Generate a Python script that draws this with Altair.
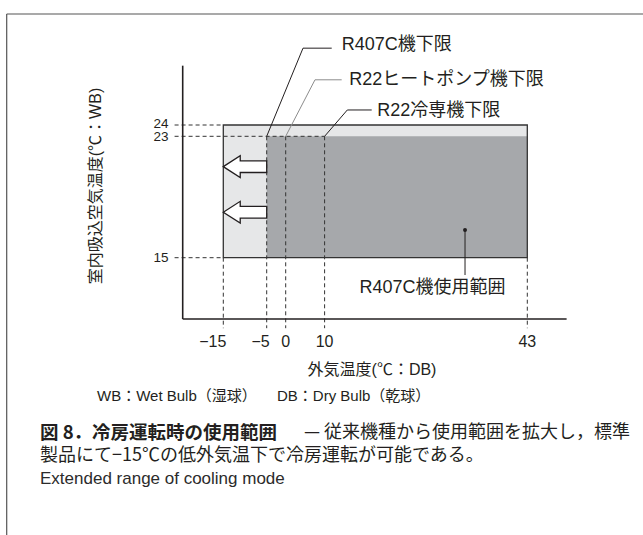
import altair as alt
import pandas as pd

# ---------------- data ----------------
# schematic (non-linear) axes: anchor values and where they fall
x_anchor_vals = [-25, -15, -5, 0, 10, 43]
x_anchor_px = [182.7, 223.3, 266.7, 285.7, 324.6, 527.3]
y_anchor_vals = [11, 15, 23, 24]
y_anchor_px = [319, 257.7, 136.3, 125]

x_ticks = [-15, -5, 0, 10, 43]
x_tick_labels = ["−15", "−5", "0", "10", "43"]
y_ticks = [24, 23, 15]
y_tick_labels = ["24", "23", "15"]
y_tick_dy = [-1, 1, 0]

# operating ranges (outdoor DB from..to, indoor WB from..to)
region_names = ["拡大範囲", "R407C機使用範囲"]
region_x0 = [-15, -5]
region_x1 = [43, 43]
region_y0 = [15, 15]
region_y1 = [24, 23]
region_colors = ["#e6e7e8", "#a6a8ab"]

# dashed guides
dash_h_y = [24, 23, 15]
dash_h_x0 = [-27, -27, -27]
dash_h_x1 = [-15, 10, -15]
dash_v_x = [-15, -5, 0, 10, 43]
dash_v_y0 = [15, 23, 23, 23, 15]
dash_v_y1 = [10.4, 10.4, 10.4, 10.4, 10.4]

# axes extents
axis_x_min, axis_x_max = -25, 49.4
axis_y_min, axis_y_max = 11, 29.25

# arrows (extension to the left)
arrow_x = [-10, -10]
arrow_y = [21, 18]

# lower-limit leaders
leader_names = ["R407C機下限", "R22ヒートポンプ機下限", "R22冷専機下限"]
leader_corner_x = [-5, 0, 10]
leader_corner_y = [23, 23, 23]
leader_elbow_x = [4.45, 7.53, 13.7]
leader_elbow_y = [30.8, 28.0, 25.33]
leader_end_x = [11.16, 12.78, 17.67]
leader_label_x = [12.78, 14.02, 18.58]
leader_label_y = [31.05, 28.0, 25.2]
leader_colors = ["#231f20", "#8c8c8c", "#231f20"]

usage_label = "R407C機使用範囲"
usage_label_x, usage_label_y = 27.57, 13.0
usage_dot_x, usage_dot_y = 32.86, 16.83
usage_line_y1 = 13.87

# ---------------- scales ----------------
xs = alt.Scale(domain=x_anchor_vals, range=x_anchor_px, nice=False, zero=False)
ys = alt.Scale(domain=y_anchor_vals, range=y_anchor_px, nice=False, zero=False)


def X(f):
    return alt.X(f, type="quantitative", scale=xs, axis=None)


def X2(f):
    return alt.X2(f)


def Y(f):
    return alt.Y(f, type="quantitative", scale=ys, axis=None)


INK = "#231f20"
LATIN = "Liberation Sans, Arial, 'Noto Sans CJK JP'"
CJK = "'Noto Sans CJK JP', 'Noto Sans CJK SC'"

regions = pd.DataFrame(dict(name=region_names, x=region_x0, x2=region_x1,
                            y=region_y0, y2=region_y1, c=region_colors))
fills = alt.Chart(regions).mark_rect().encode(
    x=X("x"), x2=X2("x2"), y=Y("y"), y2=alt.Y2("y2"),
    color=alt.Color("c:N", scale=None))

outline = alt.Chart(regions.iloc[[0]]).mark_rect(
    fillOpacity=0, stroke="#333333", strokeWidth=1.3).encode(
    x=X("x"), x2=X2("x2"), y=Y("y"), y2=alt.Y2("y2"))

dh = pd.DataFrame(dict(y=dash_h_y, x=dash_h_x0, x2=dash_h_x1))
dash_h = alt.Chart(dh).mark_rule(strokeDash=[4, 3], color="#333333", strokeWidth=1).encode(
    x=X("x"), x2=X2("x2"), y=Y("y"))
dv = pd.DataFrame(dict(x=dash_v_x, y=dash_v_y0, y2=dash_v_y1))
dash_v = alt.Chart(dv).mark_rule(strokeDash=[4, 3], color="#333333", strokeWidth=1).encode(
    x=X("x"), y=Y("y"), y2=alt.Y2("y2"))

ax_df = pd.DataFrame(dict(x=[axis_x_min, axis_x_min], x2=[axis_x_min, axis_x_max],
                          y=[axis_y_min, axis_y_min], y2=[axis_y_max, axis_y_min]))
axes = alt.Chart(ax_df).mark_rule(color=INK, strokeWidth=1.6).encode(
    x=X("x"), x2=X2("x2"), y=Y("y"), y2=alt.Y2("y2"))

ARROW = "M-1,0 L-0.22,-0.5 L-0.22,-0.27 L1,-0.27 L1,0.27 L-0.22,0.27 L-0.22,0.5 Z"
arrows = alt.Chart(pd.DataFrame(dict(x=arrow_x, y=arrow_y))).mark_point(
    shape=ARROW, size=1884, filled=True, fill="white", stroke=INK,
    strokeWidth=1.3, opacity=1).encode(x=X("x"), y=Y("y"))

rows = []
for i, n in enumerate(leader_names):
    rows.append(dict(name=n, o=0, x=leader_corner_x[i], y=leader_corner_y[i]))
    rows.append(dict(name=n, o=1, x=leader_elbow_x[i], y=leader_elbow_y[i]))
    rows.append(dict(name=n, o=2, x=leader_end_x[i], y=leader_elbow_y[i]))
leaders = alt.Chart(pd.DataFrame(rows)).mark_line(strokeWidth=1).encode(
    x=X("x"), y=Y("y"), order="o:O",
    color=alt.Color("name:N", scale=alt.Scale(domain=leader_names, range=leader_colors),
                    legend=None))

leader_text = alt.Chart(pd.DataFrame(dict(t=leader_names, x=leader_label_x, y=leader_label_y))).mark_text(
    align="left", baseline="middle", fontSize=18, font=LATIN, color=INK).encode(
    x=X("x"), y=Y("y"), text="t:N")

usage_df = pd.DataFrame(dict(x=[usage_dot_x], y=[usage_dot_y], y2=[usage_line_y1]))
usage_line = alt.Chart(usage_df).mark_rule(color=INK, strokeWidth=1).encode(
    x=X("x"), y=Y("y"), y2=alt.Y2("y2"))
usage_dot = alt.Chart(usage_df).mark_circle(size=16, color=INK, opacity=1).encode(
    x=X("x"), y=Y("y"))
usage_text = alt.Chart(pd.DataFrame(dict(t=[usage_label], x=[usage_label_x], y=[usage_label_y]))).mark_text(
    align="center", baseline="middle", fontSize=18, font=LATIN, color=INK).encode(
    x=X("x"), y=Y("y"), text="t:N")

xt_df = pd.DataFrame(dict(v=x_ticks, t=x_tick_labels, y=[9.52] * len(x_ticks)))
xt_neg = alt.Chart(xt_df[xt_df.v < 0]).mark_text(
    align="right", baseline="middle", fontSize=16, font=LATIN, color=INK, dx=3).encode(
    x=X("v"), y=Y("y"), text="t:N")
xt_pos = alt.Chart(xt_df[xt_df.v >= 0]).mark_text(
    align="center", baseline="middle", fontSize=16, font=LATIN, color=INK).encode(
    x=X("v"), y=Y("y"), text="t:N")
yt_layers = []
for v, t, d in zip(y_ticks, y_tick_labels, y_tick_dy):
    yt_layers.append(alt.Chart(pd.DataFrame(dict(v=[v], t=[t], x=[-28.5]))).mark_text(
        align="right", baseline="middle", fontSize=13.5, font=LATIN, color=INK, dy=d).encode(
        x=X("x"), y=Y("v"), text="t:N"))


def free_text(t, px, py, size, font=LATIN, weight="normal", align="left", angle=0, color=INK):
    kw = dict(align=align, baseline="middle", fontSize=size, font=font,
              fontWeight=weight, color=color, text=t)
    if angle:
        kw["angle"] = angle
    return alt.Chart(pd.DataFrame({"a": [0]})).mark_text(**kw).encode(
        x=alt.value(px), y=alt.value(py))


x_title = free_text("外気温度(℃：DB)", 372, 370, 16, align="center")
y_title = free_text("室内吸込空気温度(℃：WB)", 96, 186, 16, align="center", angle=270)
wb = free_text("WB：Wet Bulb（湿球）", 97, 396, 15)
db = free_text("DB：Dry Bulb（乾球）", 277, 396, 15)
cap1a = free_text("図 8．冷房運転時の使用範囲", 40, 433, 18.5, font=CJK, weight="bold")
cap1b = free_text("— 従来機種から使用範囲を拡大し，標準", 630, 433, 18, font=CJK, align="right")
cap2 = free_text("製品にて−15℃の低外気温下で冷房運転が可能である。", 40, 456, 18, font=CJK)
cap3 = free_text("Extended range of cooling mode", 40, 479, 17, font=LATIN, color="#2b2b2b")

frame_df = pd.DataFrame({"a": [0]})
frame_top = alt.Chart(frame_df).mark_rule(color="#555555", strokeWidth=1.2).encode(
    x=alt.value(6.7), x2=alt.value(643), y=alt.value(14))
frame_left = alt.Chart(frame_df).mark_rule(color="#555555", strokeWidth=1.2).encode(
    x=alt.value(6.7), y=alt.value(14), y2=alt.value(535))

chart = alt.layer(
    fills, dash_h, dash_v, outline, axes, arrows, leaders, leader_text,
    usage_line, usage_dot, usage_text, xt_neg, xt_pos, *yt_layers,
    x_title, y_title, wb, db, cap1a, cap1b, cap2, cap3, frame_top, frame_left,
).properties(
    width=643, height=535, autosize=alt.AutoSizeParams(type="none"), padding=0,
    background="white",
).configure_view(stroke=None)

chart.save("out.html", embed_options={"renderer": "svg", "actions": False})
